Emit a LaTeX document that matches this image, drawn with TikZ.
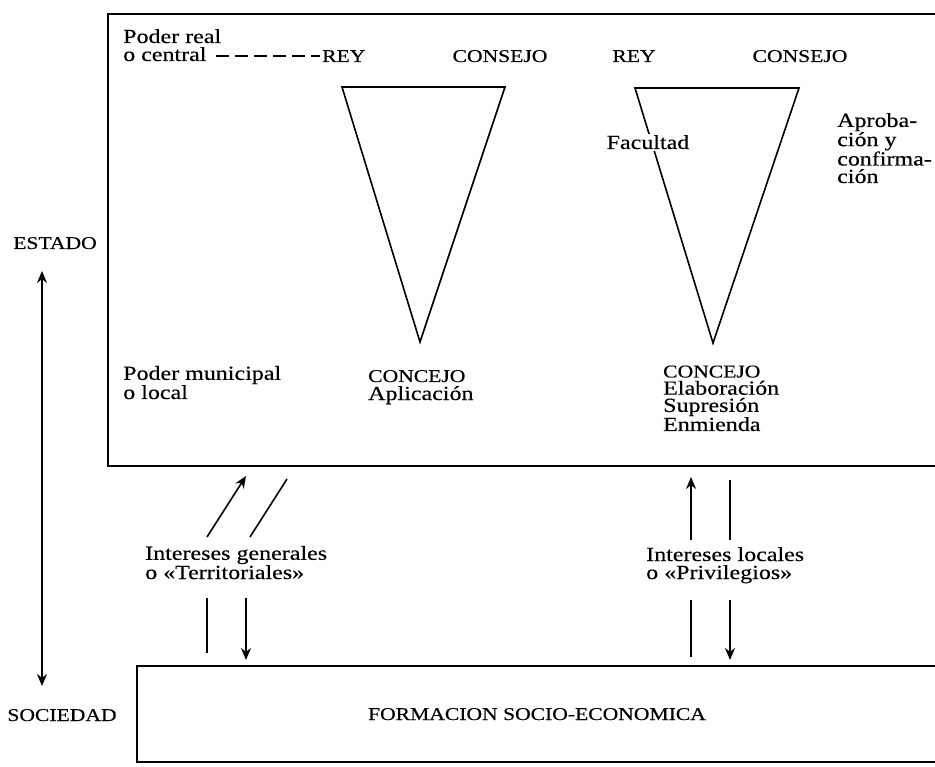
\documentclass[tikz,border=0pt]{standalone}
\usepackage{fontspec}
\setmainfont[FakeStretch=1.2,FakeBold=0.4]{Liberation Serif}
\usetikzlibrary{arrows.meta}
\newcommand\mycapsfont{\fontsize{18}{18}\selectfont}
\begin{document}
\begin{tikzpicture}[x=1pt,y=-1pt,
  txt/.style={font=\fontsize{20}{18}\selectfont, inner sep=0pt, align=left},
  capt/.style={font=\mycapsfont, inner sep=0pt},
  ln/.style={line width=1.6pt},
  arr/.style={line width=1.6pt, -{Stealth[length=12pt,width=10pt]}},
  frame/.style={line width=1.8pt},
  tri/.style={line width=1.6pt, line join=miter}]
\useasboundingbox (0,0) rectangle (935,767);

% frames
\draw[frame] (935,14) -- (108,14) -- (108,466) -- (935,466);
\draw[frame] (935,666) -- (137,666) -- (137,762) -- (935,762);

% top labels (base anchor = baseline of the last line)
\node[txt, anchor=base west] (poderreal) at (123,61) {Poder real\\o central};
\node[capt, anchor=base west] (rey1) at (322,62) {REY};
\node[capt, anchor=base] (consejo1) at (500,62) {CONSEJO};
\node[capt, anchor=base] (rey2) at (634,62) {REY};
\node[capt, anchor=base] (consejo2) at (800,62) {CONSEJO};
\coordinate (dashstart) at (216,56);
\draw[ln, dash pattern=on 13pt off 6pt] (dashstart) -- ([xshift=-2pt]rey1.west |- dashstart);

% triangles
\draw[tri] (342,87) -- (505,87) -- (420,342) -- cycle;
\draw[tri] (635,88) -- (799,88) -- (713,343) -- cycle;

\node[txt, fill=white, inner sep=1.5pt, anchor=base] (facultad) at (648,149) {Facultad};
\node[txt, anchor=base west, font=\fontsize{20}{17.5}\selectfont] (aprob) at (837,183) {Aproba-\\ción y\\confirma-\\ción};

% lower labels in the state box
\node[txt, anchor=base west] (podermun) at (123,399) {Poder municipal\\o local};
\node[txt, anchor=base west] (concejo1) at (368,400) {{\mycapsfont CONCEJO}\\Aplicación};
\node[txt, anchor=base west, font=\fontsize{20}{17.2}\selectfont] (concejo2) at (663,431)
  {{\mycapsfont CONCEJO}\\Elaboración\\Supresión\\Enmienda};

% left axis
\node[capt, anchor=base] (estado) at (55,249) {ESTADO};
\node[capt, anchor=base] (sociedad) at (62,721) {SOCIEDAD};
\coordinate (axtop) at (42,271);
\coordinate (axbot) at (42,686);
\draw[ln, {Stealth[length=12pt,width=10pt]}-{Stealth[length=12pt,width=10pt]}] (axtop) -- (axbot);

% society box text
\node[capt, anchor=base] (formacion) at (537,720) {FORMACION SOCIO-ECONOMICA};

% interests
\node[txt, anchor=base west] (intgen) at (145,579) {Intereses generales\\o «Territoriales»};
\node[txt, anchor=base west] (intloc) at (646,579) {Intereses locales\\o «Privilegios»};

% arrows left
\coordinate (la1s) at (207,537); \coordinate (la1e) at (246,476);
\coordinate (la2s) at (250,537); \coordinate (la2e) at (287,479);
\coordinate (lb1s) at (207,598); \coordinate (lb1e) at (207,653);
\coordinate (lb2s) at (246,598); \coordinate (lb2e) at (246,660);
\draw[arr] (la1s) -- (la1e);
\draw[ln] (la2s) -- (la2e);
\draw[ln] (lb1s) -- (lb1e);
\draw[arr] (lb2s) -- (lb2e);

% arrows right
\coordinate (ra1s) at (691,540); \coordinate (ra1e) at (691,477);
\coordinate (ra2s) at (730,540); \coordinate (ra2e) at (730,480);
\coordinate (rb1s) at (691,600); \coordinate (rb1e) at (691,657);
\coordinate (rb2s) at (730,600); \coordinate (rb2e) at (730,660);
\draw[arr] (ra1s) -- (ra1e);
\draw[ln] (ra2s) -- (ra2e);
\draw[ln] (rb1s) -- (rb1e);
\draw[arr] (rb2s) -- (rb2e);
\end{tikzpicture}
\end{document}
